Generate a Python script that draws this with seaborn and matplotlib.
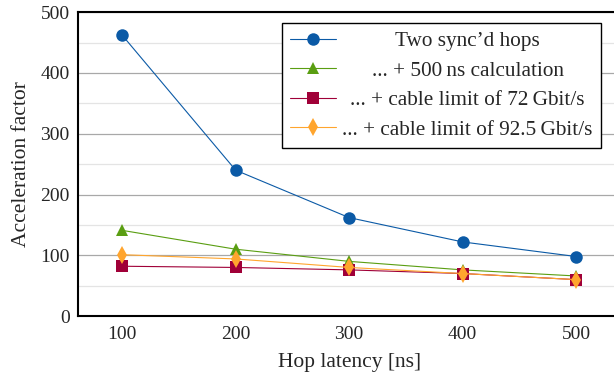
import pandas as pd
import matplotlib
matplotlib.use("Agg")
import matplotlib.pyplot as plt
import seaborn as sns
from matplotlib.ticker import MultipleLocator

# data
latency = [100, 200, 300, 400, 500]
two_hops = [462, 240, 162, 122, 98]
calc_500 = [141, 110, 90, 76, 66]
cable_72 = [82, 80, 76, 70, 60]
cable_925 = [101, 94, 80, 70, 60]

labels = [
    "Two sync\u2019d hops",
    "... + 500\u2009ns calculation",
    "... + cable limit of 72\u2009Gbit/s",
    "... + cable limit of 92.5\u2009Gbit/s",
]
series = [two_hops, calc_500, cable_72, cable_925]
colors = ["#0b5aa6", "#5a9e12", "#a00038", "#ffa52e"]
markers = ["o", "^", "s", "d"]
msizes = [9, 9, 8.5, 9]

sns.set_style("white")
plt.rcParams["font.family"] = ["Liberation Serif", "DejaVu Serif"]

fig = plt.figure(figsize=(6.14, 3.79), dpi=100)
ax = fig.add_axes([0.127, 0.166, 0.885, 0.802])

for lab, vals, c, m, ms in zip(labels, series, colors, markers, msizes):
    df = pd.DataFrame({"latency": latency, "factor": vals})
    sns.lineplot(data=df, x="latency", y="factor", ax=ax, color=c, marker=m,
                 markersize=ms, markeredgewidth=0, linewidth=0.8, label=lab)

ax.set_xlim(61, 540)
ax.set_ylim(0, 500)
ax.set_xticks(latency)
ax.yaxis.set_major_locator(MultipleLocator(100))
ax.yaxis.set_minor_locator(MultipleLocator(50))
ax.grid(which="major", axis="y", color="#a8a8a8", linewidth=0.9)
ax.grid(which="minor", axis="y", color="#e4e4e4", linewidth=0.9)
ax.set_axisbelow(True)
ax.tick_params(which="both", length=0, labelsize=14)
ax.tick_params(axis="x", pad=7)
ax.tick_params(axis="y", pad=6)
for s in ax.spines.values():
    s.set_color("black")
    s.set_linewidth(1.5)

ax.set_xlabel("Hop latency [ns]", fontsize=15.5, labelpad=7)
ax.set_ylabel("Acceleration factor", fontsize=15.5, labelpad=7)

leg = ax.legend(loc="upper right", bbox_to_anchor=(0.963, 0.964), fontsize=15.3,
                frameon=True, fancybox=False, edgecolor="black",
                framealpha=1, borderpad=0.4, borderaxespad=0, handlelength=2.15,
                handletextpad=0.3, labelspacing=0.45)
leg.get_frame().set_linewidth(1.0)

# center the legend entries like in the original
fig.canvas.draw()
r = fig.canvas.get_renderer()
widths = [t.get_window_extent(r).width for t in leg.get_texts()]
wmax = max(widths)
for t, w in zip(leg.get_texts(), widths):
    t.set_position(((wmax - w) / 2, 0))

fig.savefig("out.png", dpi=100)
